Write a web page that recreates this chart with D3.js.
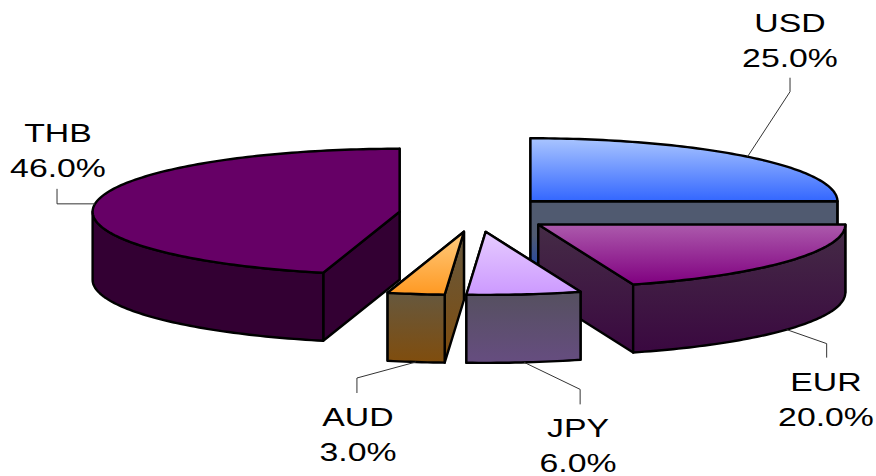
<!DOCTYPE html>
<html>
<head>
<meta charset="utf-8">
<script src="https://cdn.jsdelivr.net/npm/d3@7"></script>
<style>
html,body{margin:0;padding:0;background:#fff}
svg{display:block}
text{font-family:"Liberation Sans",Arial,sans-serif;font-size:26px;fill:#000}
</style>
</head>
<body>
<svg id="c" width="876" height="476"></svg>
<script>
const categories = ["USD","EUR","JPY","AUD","THB"];
const shares = [25.0,20.0,6.0,3.0,46.0];

const W=876,H=476;
const rx=307, ry=63, depth=68;
const base={x:476,y:214};
const explodeX=77, explodeY=18;

const themes={
 USD:{top:["#A9C5FF","#3366FF"],side:["#505A70","#505A70","#2448A8"],wall:["#505A70","#505A70","#2448A8"]},
 EUR:{top:["#AC5AAC","#800080"],side:["#452C46","#3A0840"],wall:["#452C46","#3A0840"]},
 JPY:{top:["#E6CCFF","#CC99FF"],side:["#55505F","#664D80"],wall:["#55505F","#664D80"]},
 AUD:{top:["#FFCC80","#FF9922"],side:["#66583E","#804D0D"],wall:["#66583E","#804D0D"]},
 THB:{top:["#660066","#660066"],side:["#330033","#330033"],wall:["#330033","#330033"]}
};
// label layout: elbow offset from the slice's edge point, then the text anchor
const leaders={
 USD:{elbow:[42.5,-65],end:[42.5,-79],text:[790,32]},
 EUR:{elbow:[40,14],end:[40,28],text:[826,391]},
 JPY:{elbow:[56,27],end:[56,42],text:[578,437]},
 AUD:{elbow:[-59,16],end:[-59,31],text:[358,426]},
 THB:{elbow:[-38,0],end:[-38,-15],text:[58,142]}
};
const drawOrder=["THB","USD","EUR","AUD","JPY"];

const svg=d3.select("#c");
const defs=svg.append("defs");
const pie=d3.pie().sort(null).value(d=>d.v).startAngle(0).endAngle(2*Math.PI);
const arcs=pie(categories.map((c,i)=>({c,v:shares[i]})));

function gradient(id,c){
  const g=defs.append("linearGradient").attr("id",id).attr("x1",0).attr("y1",0).attr("x2",0).attr("y2",1);
  c.forEach((col,i)=>g.append("stop").attr("offset",i/(c.length-1)).attr("stop-color",col));
}
function pt(o,a,dy=0){return [o.x+rx*Math.sin(a), o.y-ry*Math.cos(a)+dy];}
const line=d3.line();
function sample(a0,a1,dy,o){
  const n=Math.max(2,Math.ceil(Math.abs(a1-a0)/0.02));
  return d3.range(n+1).map(i=>pt(o,a0+(a1-a0)*i/n,dy));
}
const stroke="#000", sw=2.4;

arcs.forEach(d=>{
  const mid=(d.startAngle+d.endAngle)/2;
  d.o={x:base.x+explodeX*Math.sin(mid), y:base.y-explodeY*Math.cos(mid)};
  d.mid=mid;
  const t=themes[d.data.c];
  gradient("top"+d.data.c,t.top);
  gradient("side"+d.data.c,t.side);
  gradient("wall"+d.data.c,t.wall);
});

const byName=new Map(arcs.map(d=>[d.data.c,d]));
const PI=Math.PI;

drawOrder.forEach(name=>{
  const d=byName.get(name), o=d.o, a0=d.startAngle, a1=d.endAngle;
  const g=svg.append("g").attr("class","slice "+name);
  const apex=[o.x,o.y], apexB=[o.x,o.y+depth];
  // radial walls (back to front)
  [a0,a1].map(a=>({a,y:Math.cos(a)})).sort((p,q)=>q.y-p.y).forEach(({a})=>{
    const e=pt(o,a), eB=pt(o,a,depth);
    g.append("path").attr("d",line([apex,e,eB,apexB])+"Z")
      .attr("fill",`url(#side${name})`).attr("stroke",stroke).attr("stroke-width",sw).attr("stroke-linejoin","round");
  });
  // curved outer wall: only the front half (PI/2..3PI/2) is visible
  const w0=Math.max(a0,PI/2), w1=Math.min(a1,3*PI/2);
  if(w1>w0){
    const upper=sample(w0,w1,0,o), lower=sample(w1,w0,depth,o);
    g.append("path").attr("d",line(upper.concat(lower))+"Z")
      .attr("fill",`url(#wall${name})`).attr("stroke",stroke).attr("stroke-width",sw).attr("stroke-linejoin","round");
  }
  // top face
  g.append("path").attr("d",line([apex].concat(sample(a0,a1,0,o)))+"Z")
    .attr("fill",`url(#top${name})`).attr("stroke",stroke).attr("stroke-width",sw).attr("stroke-linejoin","round");
});

// leaders and labels
arcs.forEach(d=>{
  const name=d.data.c, l=leaders[name];
  const front=Math.cos(d.mid)<0;
  const s=pt(d.o,d.mid,front?depth:0);
  const p=[s,[s[0]+l.elbow[0],s[1]+l.elbow[1]],[s[0]+l.end[0],s[1]+l.end[1]]];
  svg.append("path").attr("d",line(p)).attr("fill","none").attr("stroke","#333").attr("stroke-width",1);
  const t=svg.append("g").attr("transform",`translate(${l.text[0]},${l.text[1]}) scale(1.3,1)`);
  t.append("text").attr("text-anchor","middle").text(name);
  t.append("text").attr("text-anchor","middle").attr("y",35).text(d3.format(".1f")(d.data.v)+"%");
});
</script>
</body>
</html>
